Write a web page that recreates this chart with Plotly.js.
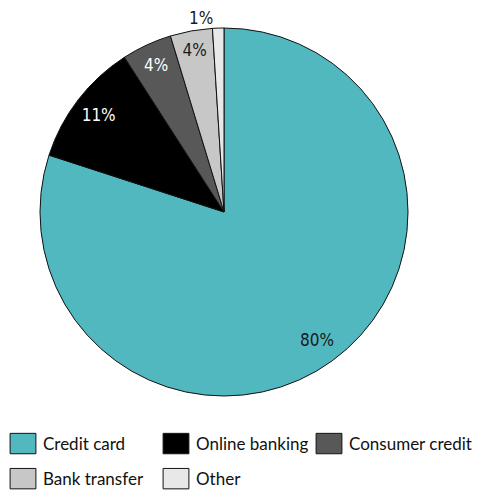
<!DOCTYPE html>
<html>
<head>
<meta charset="utf-8">
<script src="https://cdn.plot.ly/plotly-3.0.1.min.js"></script>
<style>html,body{margin:0;padding:0;background:#fff;}</style>
</head>
<body>
<div id="chart" style="width:478px;height:495px;"></div>
<script>
const categories = ["Credit card", "Online banking", "Consumer credit", "Bank transfer", "Other"];
const shares = [80, 10.9, 4.4, 3.7, 1.0];
const sliceColors = ["#52b8c0", "#000000", "#585858", "#c6c7c6", "#e8e8e8"];
const textColors = ["#1a1a1a", "#ffffff", "#ffffff", "#1a1a1a", "#1a1a1a"];
const textPositions = ["inside", "inside", "inside", "inside", "outside"];

const W = 478, H = 495;
const dom = { x: [40 / W, 408 / W], y: [1 - 396 / H, 1 - 28 / H] };
const labelFont = "DejaVu Sans Condensed, Liberation Sans Narrow, sans-serif";

const slices = {
  type: "pie",
  labels: categories,
  values: shares,
  sort: false,
  direction: "clockwise",
  rotation: 0,
  marker: { colors: sliceColors, line: { color: "#111", width: 1 } },
  textinfo: "none",
  domain: dom,
  hoverinfo: "none"
};
const ringLabels = {
  type: "pie",
  labels: categories,
  values: shares,
  sort: false,
  direction: "clockwise",
  rotation: 0,
  hole: 0.72,
  showlegend: false,
  marker: { colors: categories.map(() => "rgba(0,0,0,0)"), line: { width: 0 } },
  texttemplate: "%{percent:.0%}",
  textposition: textPositions,
  insidetextorientation: "horizontal",
  insidetextfont: { color: textColors, size: 17, family: labelFont },
  outsidetextfont: { color: "#1a1a1a", size: 17, family: labelFont },
  domain: dom,
  hoverinfo: "none"
};
const layout = {
  width: W, height: H,
  margin: { l: 0, r: 0, t: 0, b: 0, autoexpand: false },
  paper_bgcolor: "#fff",
  showlegend: true,
  legend: {
    orientation: "h",
    x: 3 / W, xanchor: "left",
    y: 1 - 426 / H, yanchor: "top",
    bgcolor: "rgba(0,0,0,0)",
    entrywidthmode: "pixels",
    entrywidth: 108,
    font: { family: "Lato", size: 17, color: "#111" },
    traceorder: "normal"
  }
};
Plotly.newPlot("chart", [slices, ringLabels], layout, { displayModeBar: false, staticPlot: true }).then(() => {
  document.querySelectorAll(".legend .legendpoints path").forEach(p => {
    const t = p.getAttribute("transform") || "";
    p.setAttribute("transform", t + " scale(2.15,1.7)");
    p.setAttribute("vector-effect", "non-scaling-stroke");
  });
  document.querySelectorAll(".legend .scrollbox").forEach(s => s.removeAttribute("clip-path"));
  const items = Array.from(document.querySelectorAll(".legend .traces"));
  const ys = items.map(g => {
    const m = /translate\(\s*([-\d.]+)[ ,]+([-\d.]+)/.exec(g.getAttribute("transform") || "");
    return m ? [parseFloat(m[1]), parseFloat(m[2])] : [0, 0];
  });
  const firstY = Math.min(...ys.map(v => v[1]));
  items.forEach((g, i) => {
    if (ys[i][1] > firstY + 1) {
      g.setAttribute("transform", "translate(" + ys[i][0] + "," + (ys[i][1] + 10) + ")");
    }
  });
});
</script>
</body>
</html>
